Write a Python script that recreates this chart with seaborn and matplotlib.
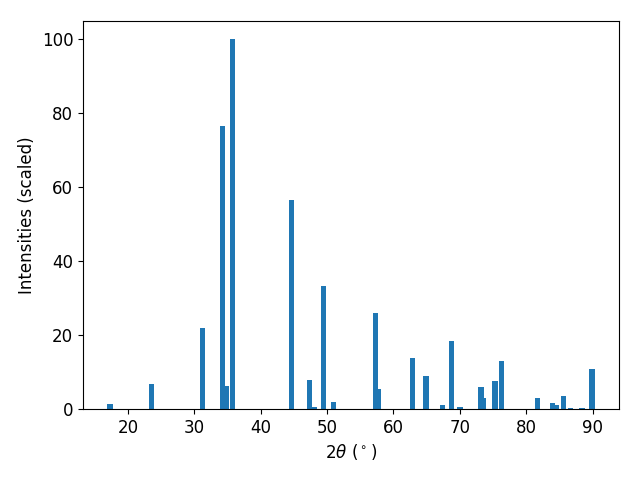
import matplotlib
matplotlib.use('Agg')
import matplotlib.pyplot as plt
import seaborn as sns

# peaks
two_theta = [17.3, 23.6, 31.2, 34.2, 34.8, 35.75, 44.6, 47.4, 48.1, 49.5, 51.0,
             57.3, 57.7, 62.9, 64.9, 67.4, 68.7, 70.0, 73.2, 73.6, 75.3, 76.3,
             81.7, 84.0, 84.5, 85.6, 86.7, 88.4, 89.9]
intensity = [1.4, 6.8, 22.0, 76.7, 6.2, 100.0, 56.6, 7.9, 0.5, 33.3, 1.9,
             26.0, 5.4, 13.8, 8.9, 1.1, 18.4, 0.5, 6.0, 3.0, 7.6, 13.0,
             3.0, 1.6, 1.1, 3.5, 0.3, 0.3, 10.8]

plt.rcParams['font.family'] = ['DejaVu Sans']
plt.rcParams['font.size'] = 12

colour = sns.color_palette('tab10')[0]

fig, ax = plt.subplots(figsize=(6.4, 4.8), dpi=100)
ax.bar(two_theta, intensity, width=0.8, color=colour, linewidth=0)
ax.set_ylim(0, 105)
ax.set_xlabel(r'$2\theta$ ($^\circ$)')
ax.set_ylabel('Intensities (scaled)')
fig.subplots_adjust(left=83 / 640, right=619 / 640, top=1 - 21 / 480, bottom=1 - 409 / 480)
plt.savefig('out.png')
